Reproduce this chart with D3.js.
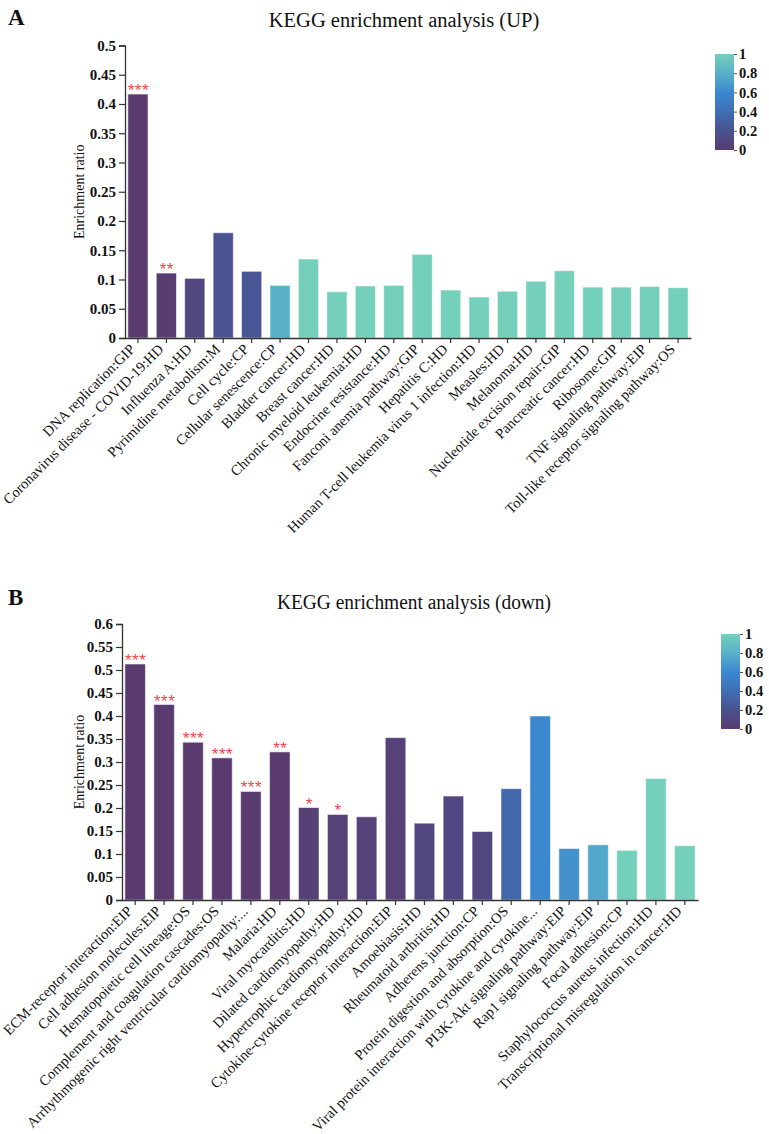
<!DOCTYPE html>
<html>
<head>
<meta charset="utf-8">
<script src="https://cdn.jsdelivr.net/npm/d3@7"></script>
<style>
  html, body { margin: 0; padding: 0; background: #fff; }
  svg { display: block; font-family: "Liberation Serif", "Times New Roman", serif; }
</style>
</head>
<body>
<svg id="chart" width="769" height="1134"></svg>
<script>
// ---- data: panel A (up-regulated) ----
const categoriesA = [
  "DNA replication:GIP", "Coronavirus disease - COVID-19:HD", "Influenza A:HD",
  "Pyrimidine metabolism:M", "Cell cycle:CP", "Cellular senescence:CP",
  "Bladder cancer:HD", "Breast cancer:HD", "Chronic myeloid leukemia:HD",
  "Endocrine resistance:HD", "Fanconi anemia pathway:GIP", "Hepatitis C:HD",
  "Human T-cell leukemia virus 1 infection:HD", "Measles:HD", "Melanoma:HD",
  "Nucleotide excision repair:GIP", "Pancreatic cancer:HD", "Ribosome:GIP",
  "TNF signaling pathway:EIP", "Toll-like receptor signaling pathway:OS"
];
const ratioA = [0.417, 0.111, 0.102, 0.180, 0.114, 0.090, 0.135, 0.079, 0.089, 0.090,
                0.143, 0.082, 0.070, 0.080, 0.097, 0.115, 0.087, 0.087, 0.088, 0.086];
const colorA = [0.0, 0.02, 0.1, 0.2, 0.22, 0.8, 1, 1, 1, 1,
                1, 1, 1, 1, 1, 1, 1, 1, 1, 1];
const sigA = ["***", "**", "", "", "", "", "", "", "", "", "", "", "", "", "", "", "", "", "", ""];

// ---- data: panel B (down-regulated) ----
const categoriesB = [
  "ECM-receptor interaction:EIP", "Cell adhesion molecules:EIP", "Hematopoietic cell lineage:OS",
  "Complement and coagulation cascades:OS", "Arrhythmogenic right ventricular cardiomyopathy:...",
  "Malaria:HD", "Viral myocarditis:HD", "Dilated cardiomyopathy:HD", "Hypertrophic cardiomyopathy:HD",
  "Cytokine-cytokine receptor interaction:EIP", "Amoebiasis:HD", "Rheumatoid arthritis:HD",
  "Adherens junction:CP", "Protein digestion and absorption:OS",
  "Viral protein interaction with cytokine and cytokine...", "PI3K-Akt signaling pathway:EIP",
  "Rap1 signaling pathway:EIP", "Focal adhesion:CP", "Staphylococcus aureus infection:HD",
  "Transcriptional misregulation in cancer:HD"
];
const ratioB = [0.513, 0.425, 0.343, 0.309, 0.236, 0.322, 0.201, 0.186, 0.181, 0.353,
                0.167, 0.226, 0.149, 0.242, 0.400, 0.112, 0.120, 0.108, 0.264, 0.118];
const colorB = [0, 0, 0, 0, 0, 0, 0.04, 0.05, 0.06, 0.05,
                0.1, 0.1, 0.1, 0.35, 0.6, 0.65, 0.75, 1, 1, 1];
const sigB = ["***", "***", "***", "***", "***", "**", "*", "*", "", "", "", "", "", "", "", "", "", "", "", ""];

// colour bar
const colorStops = [0, 0.2, 0.4, 0.6, 0.8, 1];
const colorRange = ["#5a3b70", "#4a5290", "#3f6eb4", "#3b88cf", "#59b1c8", "#74cfbb"];
const colorTicks = [0, 0.2, 0.4, 0.6, 0.8, 1];

const svg = d3.select("#chart");
svg.append("rect").attr("width", 769).attr("height", 1134).attr("fill", "#fff");
const defs = svg.append("defs");

const color = d3.scaleLinear().domain(colorStops).range(colorRange).interpolate(d3.interpolateRgb);

function panel(opt) {
  const { cats, vals, cvals, sig, x0, x1, yBottom, yTop, yMax, id } = opt;
  const g = svg.append("g");

  const x = d3.scaleBand().domain(cats).range([x0, x1]).paddingInner(0.29).paddingOuter(0.1);
  const y = d3.scaleLinear().domain([0, yMax]).range([yBottom, yTop]);

  // bars
  g.append("g").selectAll("rect")
    .data(cats)
    .join("rect")
    .attr("x", d => x(d))
    .attr("width", x.bandwidth())
    .attr("y", (d, i) => y(vals[i]))
    .attr("height", (d, i) => y(0) - y(vals[i]))
    .attr("fill", (d, i) => color(cvals[i]))
    .attr("stroke", "rgba(255,255,255,0.55)")
    .attr("stroke-width", 1);

  // significance stars
  g.append("g").selectAll("text")
    .data(cats)
    .join("text")
    .attr("x", d => x(d) + x.bandwidth() / 2 + 0.5)
    .attr("y", (d, i) => y(vals[i]) + 2)
    .attr("text-anchor", "middle")
    .attr("font-family", "Liberation Sans, Arial, sans-serif")
    .attr("font-size", 17)
    .attr("letter-spacing", 0.5)
    .attr("fill", "#f0474a")
    .text((d, i) => sig[i]);

  // y axis
  const yAxis = g.append("g")
    .attr("transform", `translate(${x0},0)`)
    .call(d3.axisLeft(y).ticks(Math.round(yMax / 0.05)).tickSize(6).tickPadding(3)
      .tickFormat(d => String(+d.toFixed(2))));
  yAxis.selectAll("text")
    .attr("font-family", "Liberation Serif, serif")
    .attr("font-size", 15)
    .attr("font-weight", "bold")
    .attr("fill", "#111");

  // x axis
  const xAxis = g.append("g")
    .attr("transform", `translate(0,${yBottom})`)
    .call(d3.axisBottom(x).tickSize(5).tickSizeOuter(0));
  xAxis.selectAll("text")
    .attr("font-family", "Liberation Serif, serif")
    .attr("font-size", 14.5)
    .attr("fill", "#111")
    .attr("text-anchor", "end")
    .attr("x", -10)
    .attr("y", 2)
    .attr("dy", "0.35em")
    .attr("transform", "rotate(-45)");

  [yAxis, xAxis].forEach(a => {
    a.select(".domain").attr("stroke", "#333").attr("stroke-width", 1.3);
    a.selectAll(".tick line").attr("stroke", "#333").attr("stroke-width", 1.2);
  });

  // y label
  g.append("text")
    .attr("transform", `translate(84,${(yBottom + yTop) / 2}) rotate(-90)`)
    .attr("text-anchor", "middle")
    .attr("font-size", 14)
    .attr("fill", "#111")
    .text("Enrichment ratio");

  // colour bar
  const gid = "cbar" + id;
  const lg = defs.append("linearGradient").attr("id", gid)
    .attr("x1", "0%").attr("y1", "100%").attr("x2", "0%").attr("y2", "0%");
  colorStops.forEach((s, i) => lg.append("stop").attr("offset", s * 100 + "%").attr("stop-color", colorRange[i]));

  const cb = opt.cbar;
  g.append("rect")
    .attr("x", cb.x).attr("y", cb.y).attr("width", cb.w).attr("height", cb.h)
    .attr("fill", `url(#${gid})`);
  const cy = d3.scaleLinear().domain([0, 1]).range([cb.y + cb.h, cb.y]);
  const cAxis = g.append("g")
    .attr("transform", `translate(${cb.x + cb.w},0)`)
    .call(d3.axisRight(cy).tickValues(colorTicks).tickSize(3).tickPadding(2).tickFormat(d3.format("~g")));
  cAxis.select(".domain").remove();
  cAxis.selectAll(".tick line").attr("stroke", "#555");
  cAxis.selectAll("text")
    .attr("font-family", "Liberation Serif, serif")
    .attr("font-size", 14.5)
    .attr("font-weight", "bold")
    .attr("fill", "#111");

  // title + panel letter
  const t = svg.append("text")
    .attr("x", opt.titleX).attr("y", opt.titleY)
    .attr("text-anchor", "middle")
    .attr("font-size", 20.5)
    .attr("fill", "#111")
    .text(opt.title);
  if (opt.titleLen) t.attr("textLength", opt.titleLen).attr("lengthAdjust", "spacingAndGlyphs");
  svg.append("text")
    .attr("x", opt.letterX).attr("y", opt.letterY)
    .attr("font-size", 23)
    .attr("font-weight", "bold")
    .attr("fill", "#111")
    .text(id);
}

panel({
  id: "A", cats: categoriesA, vals: ratioA, cvals: colorA, sig: sigA,
  x0: 125, x1: 691, yBottom: 338, yTop: 45.5, yMax: 0.5,
  cbar: { x: 715, y: 54, w: 19, h: 96 },
  title: "KEGG enrichment analysis (UP)", titleX: 404, titleY: 27, titleLen: null,
  letterX: 8, letterY: 25
});

panel({
  id: "B", cats: categoriesB, vals: ratioB, cvals: colorB, sig: sigB,
  x0: 122, x1: 698, yBottom: 900, yTop: 624, yMax: 0.6,
  cbar: { x: 721, y: 634, w: 19, h: 95 },
  title: "KEGG enrichment analysis (down)", titleX: 414, titleY: 609, titleLen: 274,
  letterX: 8, letterY: 605
});
</script>
</body>
</html>
